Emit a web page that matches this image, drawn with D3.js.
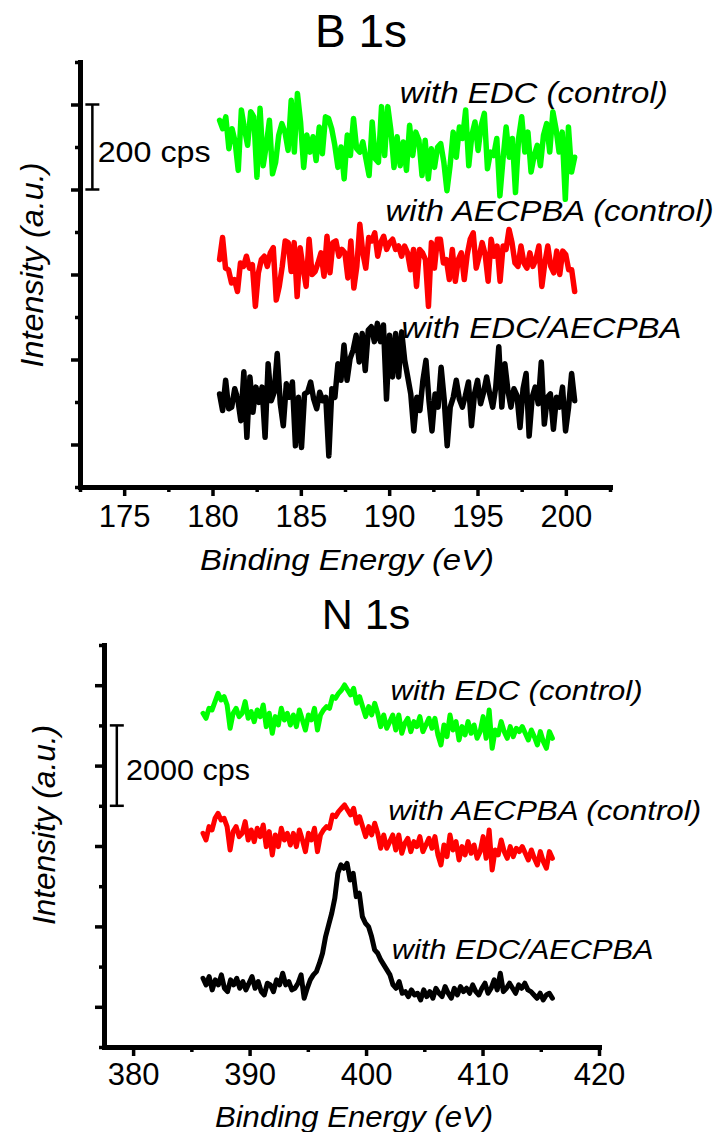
<!DOCTYPE html>
<html>
<head>
<meta charset="utf-8">
<script src="https://cdn.jsdelivr.net/npm/d3@7"></script>
<style>
  body { margin: 0; background: #fff; }
  svg { display: block; }
  text { font-family: "Liberation Sans", Arial, sans-serif; fill: #000; }
</style>
</head>
<body>
<script>
// B 1s scans, offset counts (cps)
const b1sStart = 180.4, b1sEnd = 200.5
const b1sEDC = [863,843,871,796,843,812,745,887,843,804,883,871,729,891,756,804,863,737,764,828,855,835,792,910,788,926,859,752,828,788,824,768,847,784,871,867,843,804,752,800,725,828,780,867,796,788,812,772,733,859,772,764,895,780,895,839,752,824,
  756,812,745,851,780,835,816,733,816,725,796,752,800,808,764,697,756,835,776,847,820,887,756,828,859,792,851,879,749,788,780,820,685,772,847,776,820,693,820,871,788,835,741,780,804,756,828,855,788,883,843,788,835,677,847,741,776]
const b1sAECPBA = [535,587,515,511,480,488,460,527,519,543,515,523,425,504,535,543,519,551,563,440,472,519,579,575,507,575,448,563,515,472,583,500,507,527,551,496,590,504,575,579,543,559,551,492,579,468,519,618,551,515,587,579,598,543,575,590,559,575,583,559,567,543,
  567,551,511,559,472,559,551,535,425,575,515,583,583,527,535,488,559,484,535,551,488,547,583,598,515,543,575,547,484,583,543,567,484,567,559,606,575,527,519,567,527,515,551,519,535,567,472,527,567,519,504,555,500,555,547,511,511,460]
const b1sBoth = [219,180,251,184,188,231,207,156,271,117,259,176,235,199,235,117,290,203,223,314,196,144,243,211,247,97,211,93,219,223,247,207,184,223,203,211,73,231,211,290,251,334,251,302,322,357,294,361,274,369,377,342,385,342,381,207,357,259,361,259,
  365,298,259,219,132,211,180,251,298,203,132,219,188,282,207,97,188,211,251,207,188,215,247,144,219,251,196,223,259,219,188,235,330,188,290,227,188,231,215,140,231,267,120,211,235,196,294,148,211,219,136,211,188,235,132,188,267,203]

// N 1s scans
const n1sStart = 386, n1sEnd = 416
const n1sEDC = [8301,8176,8425,8384,8591,8798,8632,8715,8508,7928,8301,8425,8218,8301,8591,8176,8342,8093,8384,8218,8508,7969,8301,7803,8218,8011,8425,8135,8301,8011,8259,7969,8384,8135,7886,8259,8135,8425,7886,8259,8384,8466,8425,8715,8674,8798,8881,9006,8881,8757,8922,8549,8715,8466,8218,8466,8259,8549,8301,7969,
  8259,7928,8093,8259,7886,8259,7803,8052,8176,7845,8093,7969,8218,7845,8011,8176,7928,8176,7762,7513,8011,7720,8259,7886,8093,7637,7969,7762,8093,7803,8011,7679,7845,8218,7679,8384,7430,7886,7762,8093,7845,7679,7969,7720,7928,7845,7969,7803,7637,7886,7720,7513,7845,7596,7430,7845,7679]
const n1sAECPBA = [5316,5150,5482,5399,5689,5813,5648,5689,5482,4902,5358,5482,5233,5316,5606,5150,5399,5109,5441,5233,5523,4984,5358,4777,5275,4984,5441,5150,5316,5026,5316,4984,5399,5150,4860,5316,5150,5441,4860,5275,5399,5482,5441,5772,5730,5855,5938,6021,5896,5772,5938,5565,5730,5482,5233,5482,5275,5565,5316,4943,
  5275,4943,5109,5275,4902,5275,4819,5068,5192,4860,5109,4984,5233,4860,5026,5192,4943,5233,4777,4529,5026,4736,5275,4902,5109,4653,4984,4777,5109,4819,5026,4694,4860,5233,4694,5399,4404,4902,4777,5150,4860,4694,4984,4736,4943,4860,4984,4819,4653,4902,4694,4529,4860,4612,4446,4860,4694]
const n1sBoth = [1710,1544,1752,1420,1669,1544,1793,1461,1378,1669,1544,1710,1461,1627,1420,1586,1752,1461,1627,1378,1295,1586,1544,1378,1669,1544,1835,1544,1627,1420,1461,1586,1793,1213,1461,1669,1793,1876,2084,2332,2747,3037,3327,3700,4322,4529,4446,4570,4156,4322,3741,3824,3244,3078,2995,2747,2415,2332,2166,2042,1918,
  1793,1544,1461,1627,1337,1378,1254,1420,1295,1337,1171,1420,1254,1378,1213,1461,1337,1254,1503,1337,1213,1461,1295,1503,1378,1461,1337,1544,1378,1295,1461,1586,1337,1461,1669,1420,1835,1378,1461,1586,1461,1337,1544,1461,1586,1420,1378,1295,1213,1337,1171,1295,1337,1213]

const seriesNames = ["with EDC (control)", "with AECPBA (control)", "with EDC/AECPBA"]
const seriesColors = ["#00ff00", "#ff0000", "#000000"]

const b1sTicks = [175, 180, 185, 190, 195, 200]
const b1sMinor = [172.5, 177.5, 182.5, 187.5, 192.5, 197.5, 202.5]
const n1sTicks = [380, 390, 400, 410, 420]
const n1sMinor = [385, 395, 405, 415]
const b1sYMajor = [100, 300, 500, 700, 900]
const b1sYMinor = [0, 200, 400, 600, 800, 1000]
const n1sYMajor = [1000, 3000, 5000, 7000, 9000]
const n1sYMinor = [0, 2000, 4000, 6000, 8000, 10000]

const width = 722
const height = 1132

const svg = d3.select("body").append("svg")
    .attr("width", width)
    .attr("height", height)
    .attr("viewBox", [0, 0, width, height])

function energies(start, end, n) {
    return d3.range(n).map(i => start + i * (end - start) / (n - 1))
}

function drawPanel(p) {
    const x = d3.scaleLinear().domain(p.xDomain).range(p.xRange)
    const y = d3.scaleLinear().domain(p.yDomain).range(p.yRange)
    const g = svg.append("g")

    // traces
    const line = d3.line().x(d => x(d[0])).y(d => y(d[1]))
    p.series.forEach((vals, k) => {
        const ev = energies(p.start, p.end, vals.length)
        g.append("path")
            .datum(vals.map((v, i) => [ev[i], v]))
            .attr("fill", "none")
            .attr("stroke", seriesColors[k])
            .attr("stroke-width", p.lineWidth)
            .attr("stroke-linejoin", "round")
            .attr("stroke-linecap", "round")
            .attr("d", line)
    })

    // axes: minor first, then major with labels
    const y0 = p.yRange[0], x0 = p.xRange[0]
    g.append("g").attr("transform", `translate(0,${y0})`)
        .call(d3.axisBottom(x).tickValues(p.xMinor).tickSize(5).tickFormat("").tickSizeOuter(0))
    const xa = g.append("g").attr("transform", `translate(0,${y0})`)
        .call(d3.axisBottom(x).tickValues(p.xTicks).tickSize(9).tickFormat(d3.format("d")).tickSizeOuter(0))
    xa.selectAll(".tick text")
        .attr("y", p.tickLabelY).attr("dy", 0)
        .style("font-size", "31px")
    g.append("g").attr("transform", `translate(${x0},0)`)
        .call(d3.axisLeft(y).tickValues(p.yMinor).tickSize(5).tickFormat("").tickSizeOuter(0))
    g.append("g").attr("transform", `translate(${x0},0)`)
        .call(d3.axisLeft(y).tickValues(p.yMajor).tickSize(9).tickFormat("").tickSizeOuter(0))

    g.selectAll(".domain").attr("stroke-width", 5).attr("stroke-linecap", "square")
    g.selectAll(".tick line").attr("stroke-width", 3.5)

    // titles and axis labels
    g.append("text")
        .attr("x", p.titlePos[0]).attr("y", p.titlePos[1])
        .attr("text-anchor", "middle")
        .style("font-size", p.titleSize + "px")
        .text(p.title)

    g.append("text")
        .attr("x", p.xLabelPos[0]).attr("y", p.xLabelPos[1])
        .attr("text-anchor", "middle")
        .attr("font-style", "italic")
        .attr("textLength", p.xLabelLen).attr("lengthAdjust", "spacingAndGlyphs")
        .style("font-size", "30px")
        .text("Binding Energy (eV)")

    g.append("text")
        .attr("transform", `translate(${p.yLabelPos[0]},${p.yLabelPos[1]}) rotate(-90)`)
        .attr("text-anchor", "middle")
        .attr("font-style", "italic")
        .attr("textLength", p.yLabelLen).attr("lengthAdjust", "spacingAndGlyphs")
        .style("font-size", p.yLabelSize + "px")
        .text("Intensity (a.u.)")

    // series labels
    seriesNames.forEach((name, k) => {
        g.append("text")
            .attr("x", x(p.labelAt[k][0])).attr("y", y(p.labelAt[k][1]))
            .attr("font-style", "italic")
            .attr("textLength", p.labelLen[k]).attr("lengthAdjust", "spacingAndGlyphs")
            .style("font-size", p.labelSize + "px")
            .text(name)
    })

    // scale bar
    const sx = x(p.bar.x), sa = y(p.bar.from), sb = y(p.bar.to)
    const bar = g.append("g").attr("stroke", "#000").attr("stroke-width", 2.5)
    bar.append("line").attr("x1", sx).attr("x2", sx).attr("y1", sa).attr("y2", sb)
    bar.append("line").attr("x1", sx - 7).attr("x2", sx + 7).attr("y1", sa).attr("y2", sa)
    bar.append("line").attr("x1", sx - 7).attr("x2", sx + 7).attr("y1", sb).attr("y2", sb)
    g.append("text")
        .attr("x", x(p.bar.textAt[0])).attr("y", y(p.bar.textAt[1]))
        .attr("textLength", p.bar.textLen).attr("lengthAdjust", "spacingAndGlyphs")
        .style("font-size", "30px")
        .text(p.bar.label)
}

drawPanel({
    title: "B 1s", titlePos: [361, 47], titleSize: 46,
    xDomain: [172.5, 202.5], xRange: [80, 610],
    yDomain: [0, 1000], yRange: [487, 62],
    xTicks: b1sTicks, xMinor: b1sMinor, yMajor: b1sYMajor, yMinor: b1sYMinor,
    tickLabelY: 40,
    start: b1sStart, end: b1sEnd,
    series: [b1sEDC, b1sAECPBA, b1sBoth], lineWidth: 5.5,
    xLabelPos: [347, 570], xLabelLen: 294,
    yLabelPos: [43, 265], yLabelLen: 205, yLabelSize: 32,
    labelAt: [[190.6, 903], [189.8, 626], [190.7, 351]],
    labelLen: [268, 328, 280], labelSize: 29,
    bar: { x: 173.2, from: 700, to: 900, label: "200 cps", textAt: [173.5, 765], textLen: 113 }
})

drawPanel({
    title: "N 1s", titlePos: [366, 629], titleSize: 43,
    xDomain: [377.5, 420], xRange: [104, 599],
    yDomain: [0, 10000], yRange: [1047, 645],
    xTicks: n1sTicks, xMinor: n1sMinor, yMajor: n1sYMajor, yMinor: n1sYMinor,
    tickLabelY: 38,
    start: n1sStart, end: n1sEnd,
    series: [n1sEDC, n1sAECPBA, n1sBoth], lineWidth: 5,
    xLabelPos: [354, 1127], xLabelLen: 278,
    yLabelPos: [55, 825], yLabelLen: 200, yLabelSize: 31,
    labelAt: [[402.1, 8632], [401.9, 5647], [402.2, 2189]],
    labelLen: [252, 313, 262], labelSize: 27,
    bar: { x: 378.6, from: 6000, to: 8000, label: "2000 cps", textAt: [379.4, 6642], textLen: 124 }
})
</script>
</body>
</html>
